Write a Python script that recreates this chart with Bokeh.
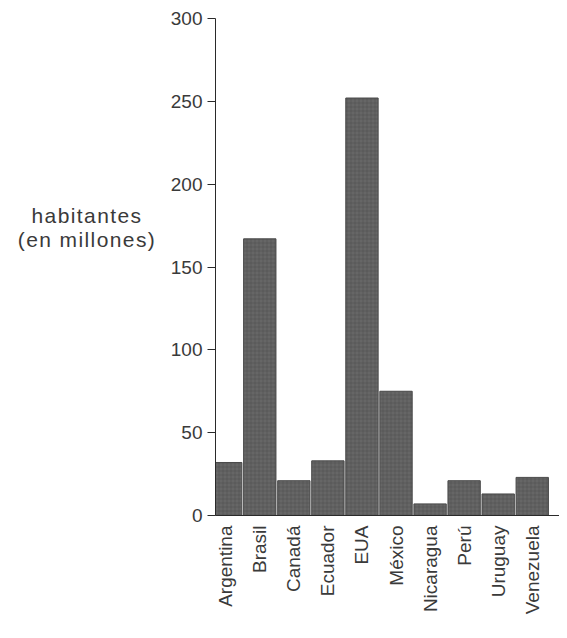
import numpy as np
from bokeh.plotting import figure
from bokeh.models import Range1d, FixedTicker, ColumnDataSource, Div
from bokeh.layouts import row
from bokeh.embed import file_html
from bokeh.resources import INLINE

paises = ["Argentina", "Brasil", "Canadá", "Ecuador", "EUA", "México",
          "Nicaragua", "Perú", "Uruguay", "Venezuela"]
habitantes = [32, 167, 21, 33, 252, 75, 7, 21, 13, 23]
y_ticks = [0, 50, 100, 150, 200, 250, 300]
y_titulo = ["habitantes", "(en millones)"]

font = "Liberation Sans"
LEFT_W = 150
GAP = 10

idx = list(range(len(paises)))
src = ColumnDataSource(dict(x=idx, top=habitantes, pais=paises))

p = figure(width=559 - LEFT_W - GAP, height=625, output_backend="svg", toolbar_location=None,
           x_range=Range1d(-0.3, len(paises) - 0.2), y_range=Range1d(0, 300))
p.min_border_left = 215 - LEFT_W - GAP
p.min_border_right = 0
p.min_border_top = 18
p.min_border_bottom = 110
p.outline_line_color = None
p.background_fill_color = "white"
p.border_fill_color = "white"

p.vbar(x="x", top="top", width=0.95, bottom=0, source=src,
       fill_color="#666666", line_color="#4a4a4a", line_width=1,
       hatch_pattern="cross", hatch_color="#383838", hatch_alpha=0.5,
       hatch_scale=4, hatch_weight=0.6)

p.xgrid.grid_line_color = None
p.ygrid.grid_line_color = None

p.yaxis.ticker = FixedTicker(ticks=y_ticks)
p.yaxis.minor_tick_line_color = None
p.yaxis.major_tick_out = 8
p.yaxis.major_tick_in = 0
p.yaxis.major_label_standoff = 5
p.yaxis.major_label_text_font = font
p.yaxis.major_label_text_font_size = "19px"
p.yaxis.major_label_text_color = "#3a3a3a"
p.yaxis.axis_line_color = "#2a2a2a"
p.yaxis.major_tick_line_color = "#2a2a2a"

p.xaxis.ticker = FixedTicker(ticks=idx)
p.xaxis.major_label_overrides = {i: n for i, n in enumerate(paises)}
p.xaxis.major_label_orientation = np.pi / 2
p.xaxis.major_tick_out = 0
p.xaxis.major_tick_in = 0
p.xaxis.minor_tick_line_color = None
p.xaxis.major_label_standoff = 10
p.xaxis.major_label_text_font = font
p.xaxis.major_label_text_font_size = "19px"
p.xaxis.major_label_text_color = "#3a3a3a"
p.xaxis.axis_line_color = "#2a2a2a"

titulo = Div(
    text=("<div style=\"padding-top:199px;text-align:center;"
          "font-family:'Liberation Sans';font-size:21px;line-height:24px;"
          "color:#3a3a3a;letter-spacing:1.4px;width:164px\">%s</div>"
          % "<br>".join(y_titulo)),
    width=LEFT_W, height=625)

layout = row(titulo, p, spacing=0)
open("out.html", "w").write(file_html(layout, INLINE))
